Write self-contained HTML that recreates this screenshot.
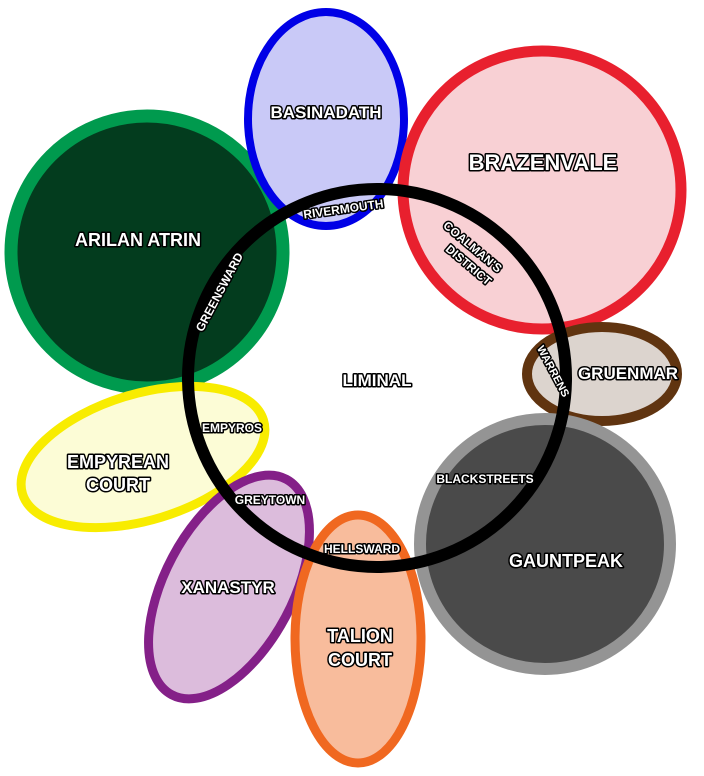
<!DOCTYPE html>
<html><head><meta charset="utf-8"><style>
html,body{margin:0;padding:0;background:#fff;width:704px;height:776px;overflow:hidden}
text{font-family:"Liberation Sans",sans-serif;font-weight:bold;fill:#fff;stroke:#000;stroke-width:3;paint-order:stroke;stroke-linejoin:round;text-anchor:middle}
</style></head><body>
<svg width="704" height="776" viewBox="0 0 704 776" xmlns="http://www.w3.org/2000/svg">
<circle cx="147" cy="252" r="136" fill="#033c1e" stroke="#009a4e" stroke-width="13"/>
<ellipse cx="326" cy="119" rx="78" ry="107" fill="#c9c9f7" stroke="#0000e6" stroke-width="8"/>
<circle cx="542" cy="190" r="139" fill="#f8d0d4" stroke="#e8202e" stroke-width="11"/>
<ellipse cx="602" cy="374" rx="75" ry="47" fill="#dcd4ce" stroke="#603410" stroke-width="10"/>
<ellipse cx="143" cy="457" rx="126" ry="63" transform="rotate(-17 143 457)" fill="#fcfcd6" stroke="#f8ec00" stroke-width="9"/>
<ellipse cx="229" cy="587" rx="122" ry="64" transform="rotate(-62 229 587)" fill="#dcbcdc" stroke="#842088" stroke-width="9"/>
<ellipse cx="358" cy="639" rx="63" ry="124" fill="#f8bc9c" stroke="#f06820" stroke-width="9"/>
<circle cx="545" cy="544" r="125" fill="#4a4a4a" stroke="#949494" stroke-width="12"/>
<circle cx="377" cy="378" r="189" fill="none" stroke="#000" stroke-width="12"/>
<text x="326" y="118" font-size="17">BASINADATH</text>
<text x="543" y="170" font-size="22">BRAZENVALE</text>
<text x="138" y="246" font-size="18">ARILAN ATRIN</text>
<text x="377" y="386" font-size="17">LIMINAL</text>
<text x="628" y="379" font-size="17">GRUENMAR</text>
<text x="118" y="468" font-size="18">EMPYREAN</text>
<text x="118" y="491" font-size="18">COURT</text>
<text x="228" y="593" font-size="17">XANASTYR</text>
<text x="360" y="642" font-size="18">TALION</text>
<text x="360" y="666" font-size="18">COURT</text>
<text x="566" y="567" font-size="18">GAUNTPEAK</text>
<text x="344" y="213" font-size="12" transform="rotate(-8 344 213)">RIVERMOUTH</text>
<text x="470" y="250" font-size="12" transform="rotate(40 470 250)">COALMAN'S</text>
<text x="466" y="268" font-size="12" transform="rotate(40 466 268)">DISTRICT</text>
<text x="223" y="294" font-size="12" transform="rotate(-62 223 294)">GREENSWARD</text>
<text x="550" y="373" font-size="11" transform="rotate(62 550 373)">WARRENS</text>
<text x="232" y="432" font-size="12">EMPYROS</text>
<text x="270" y="504" font-size="12">GREYTOWN</text>
<text x="362" y="553" font-size="12">HELLSWARD</text>
<text x="485" y="483" font-size="12">BLACKSTREETS</text>
</svg>
</body></html>
